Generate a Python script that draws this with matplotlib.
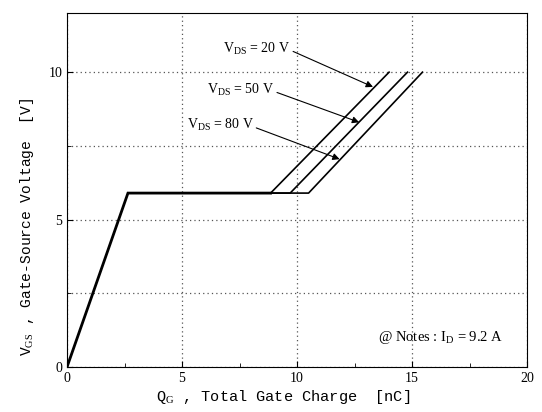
import numpy as np
import matplotlib.pyplot as plt

# gate charge curve data
q_rise = [0.0, 2.65]
v_rise = [0.0, 5.9]
vds_labels = ["20", "50", "80"]
plateau_end = [8.85, 9.7, 10.5]
q_top = [14.0, 14.8, 15.45]
v_top = 10.0
# arrow tips and label positions
arrow_tip = [(13.3, 9.5), (12.7, 8.3), (11.85, 7.05)]
label_pos = [(6.8, 10.8), (6.1, 9.4), (5.2, 8.2)]

plt.rcParams['font.family'] = ['Liberation Serif', 'DejaVu Serif']
plt.rcParams['mathtext.fontset'] = 'custom'
plt.rcParams['mathtext.rm'] = 'Liberation Serif'
plt.rcParams['mathtext.it'] = 'Liberation Serif'

fig = plt.figure(figsize=(5.42, 4.12), dpi=100)
ax = fig.add_axes([0.1236, 0.109, 0.849, 0.859])

# rise segment + plateau shared part
ax.plot(q_rise + [plateau_end[0]], v_rise + [v_rise[-1]], color='black', lw=2.0, solid_joinstyle='miter')
for i in range(3):
    ax.plot([plateau_end[0], plateau_end[i], q_top[i]], [v_rise[-1], v_rise[-1], v_top],
            color='black', lw=1.2)
    ax.annotate(r"V$_{\mathrm{DS}}$ = " + vds_labels[i] + " V", xy=arrow_tip[i], xytext=label_pos[i],
                fontsize=10, va='center', ha='left',
                arrowprops=dict(arrowstyle='-|>', color='black', lw=0.8, mutation_scale=10,
                                shrinkA=0, shrinkB=0, relpos=(1.0, 0.4)))

ax.text(13.5, 1.0, r"@ Notes : I$_{\mathrm{D}}$ = 9.2 A", fontsize=10.5, va='center')

ax.set_xlim(0, 20)
ax.set_ylim(0, 12)
ax.set_xticks([0, 5, 10, 15, 20])
ax.set_yticks([0, 5, 10])
ax.set_xticks([2.5, 7.5, 12.5, 17.5], minor=True)
ax.set_yticks([2.5, 7.5], minor=True)
ax.tick_params(direction='in', which='both', labelsize=10)
ax.tick_params(which='major', length=4)
ax.tick_params(which='minor', length=3)
ax.grid(True, which='both', linestyle=(0, (1, 2.5)), color='#555555', lw=0.9)
# no vertical minor grid
ax.xaxis.grid(False, which='minor')

ax.set_xlabel(r"Q$_{\mathrm{G}}$ , Total Gate Charge  [nC]", fontsize=11, family=['Liberation Mono', 'DejaVu Sans Mono'])
ax.set_ylabel(r"V$_{\mathrm{GS}}$ , Gate-Source Voltage  [V]", fontsize=10.5, family=['Liberation Mono', 'DejaVu Sans Mono'])
ax.xaxis.set_label_coords(0.47, -0.058)
ax.yaxis.set_label_coords(-0.068, 0.395)

plt.savefig("out.png", dpi=100)
plt.close()
